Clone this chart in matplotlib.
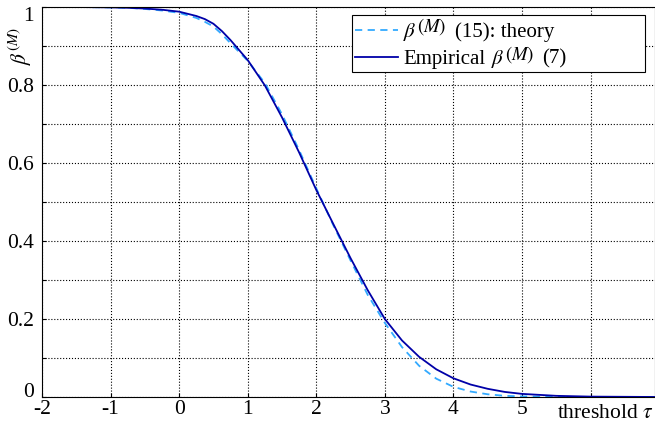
import numpy as np
import matplotlib.pyplot as plt
from matplotlib.lines import Line2D
from matplotlib.patches import Rectangle

# ----------------------------
# Data
# ----------------------------
tau = [-2, -1.5, -1, -0.75, -0.5, -0.25, 0, 0.25, 0.375, 0.5, 0.625, 0.75,
       1, 1.25, 1.5, 1.75, 2, 2.25, 2.5, 2.75, 3, 3.25, 3.5, 3.75, 4, 4.25,
       4.5, 4.75, 5, 5.5, 6, 7]
beta_theory = [1.0, 1.0, 0.999, 0.998, 0.995, 0.991, 0.985, 0.972, 0.962,
               0.950, 0.930, 0.907, 0.862, 0.805, 0.725, 0.633, 0.535, 0.440,
               0.350, 0.262, 0.190, 0.128, 0.080, 0.047, 0.026, 0.014, 0.007,
               0.003, 0.0015, 0.0003, 0.0, 0.0]
beta_emp = [1.0, 1.0, 0.999, 0.998, 0.996, 0.993, 0.988, 0.977, 0.969, 0.957,
            0.938, 0.915, 0.864, 0.799, 0.717, 0.627, 0.531, 0.443, 0.356,
            0.274, 0.200, 0.145, 0.103, 0.071, 0.048, 0.032, 0.021, 0.013,
            0.008, 0.003, 0.001, 0.0]

xticks = [-2, -1, 0, 1, 2, 3, 4, 5, 6]
xticklabels = ["-2", "-1", "0", "1", "2", "3", "4", "5", ""]
yticks = np.arange(0, 1.01, 0.1)
yticklabels = ["0", "", "0.2", "", "0.4", "", "0.6", "", "0.8", "", "1"]

theory_color = '#33aaff'
emp_color = '#0000a8'

plt.rcParams['font.family'] = ['Liberation Serif', 'DejaVu Serif']
plt.rcParams['mathtext.fontset'] = 'stix'

fig = plt.figure(figsize=(6.55, 4.23), dpi=100)
ax = fig.add_axes([42 / 655, 26 / 423, 1 - 42 / 655, 390 / 423])

ax.plot(tau, beta_theory, '--', color=theory_color, lw=1.3, dashes=(4, 3))
ax.plot(tau, beta_emp, '-', color=emp_color, lw=1.3)

ax.set_xlim(-2, 6.94)
ax.set_ylim(0, 1)
ax.set_xticks(xticks)
ax.set_xticklabels(xticklabels)
ax.set_yticks(yticks)
ax.set_yticklabels(yticklabels)
ax.tick_params(direction='in', labelsize=15.5, length=3)
ax.tick_params(axis='x', pad=2)
ax.tick_params(axis='y', pad=6)
ax.grid(True, linestyle=':', color='black', lw=0.8)
ylabs = ax.get_yticklabels()
ylabs[0].set_va('baseline')
ylabs[-1].set_va('top')

for s in ax.spines.values():
    s.set_color('black')

ax.text(0.998, -0.018, r"threshold $\tau$", transform=ax.transAxes,
        ha='right', va='top', fontsize=15.5)
ax.text(-0.036, 0.9, r"$\beta^{(M)}$", transform=ax.transAxes,
        rotation=90, ha='center', va='center', fontsize=15.5)

# ----------------------------
# Legend (drawn by hand so the superscript can be full size)
# ----------------------------
ax.add_patch(Rectangle((0.5065, 0.833), 0.4772, 0.1465, transform=ax.transAxes,
                       facecolor='white', edgecolor='black', lw=0.8, zorder=5))
ax.add_line(Line2D([0.5106, 0.5808], [0.941, 0.941], transform=ax.transAxes,
                   color=theory_color, ls='--', dashes=(4, 3), lw=1.3, zorder=6))
ax.add_line(Line2D([0.5106, 0.5808], [0.872, 0.872], transform=ax.transAxes,
                   color=emp_color, lw=1.3, zorder=6))


def legend_row(parts, y):
    prev = None
    for txt, size, rise, gap in parts:
        if prev is None:
            prev = ax.text(0.589, y, txt, transform=ax.transAxes, fontsize=size,
                           va='baseline', ha='left', zorder=7)
        else:
            prev = ax.annotate(txt, xy=(1, y), xycoords=(prev, ax.transAxes),
                               xytext=(gap, rise), textcoords='offset points',
                               fontsize=size, va='baseline', ha='left', zorder=7)


legend_row([(r"$\beta$", 15, 0, 0), (r"$(M)$", 13.5, 3.5, 0.2),
            ("(15): theory", 15, 0, 6)], 0.924)
legend_row([("Empirical", 15, 0, 0), (r"$\beta$", 15, 0, 4),
            (r"$(M)$", 13.5, 3.5, 0.2), ("(7)", 15, 0, 6)], 0.854)

fig.savefig("out.png", dpi=100)
